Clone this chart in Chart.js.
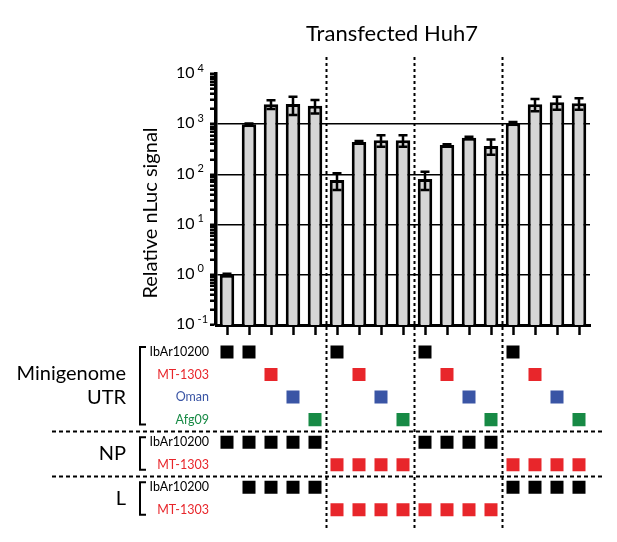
<!DOCTYPE html>
<html>
<head>
<meta charset="utf-8">
<title>Transfected Huh7</title>
<script src="https://cdn.jsdelivr.net/npm/chart.js@4.4.1/dist/chart.umd.min.js"></script>
<style>
  body { margin: 0; background: #fff; }
  #wrap { width: 617px; height: 542px; }
</style>
</head>
<body>
<div id="wrap"><canvas id="huh7Chart"></canvas></div>
<script>
// one bar per transfection, left to right
const lanes = ['1', '2', '3', '4', '5', '6', '7', '8', '9', '10', '11', '12', '13', '14', '15', '16', '17'];
const signal = [1, 1000, 2500, 2530, 2340, 77, 444, 481, 481, 81, 383, 535, 370, 1050, 2500, 2740, 2620];
const signalSd = [0.05, 30, 500, 1000, 700, 28, 20, 124, 124, 32, 15, 30, 125, 60, 680, 790, 670];
const decades = [-1, 0, 1, 2, 3, 4];
const groupBreaks = [4.5, 8.5, 12.5];

// construct matrix under the bars
const rowLabels = ['IbAr10200', 'MT-1303', 'Oman', 'Afg09', 'IbAr10200', 'MT-1303', 'IbAr10200', 'MT-1303'];
const rowColors = ['#000000', '#e8262b', '#3a55a5', '#178a45', '#000000', '#e8262b', '#000000', '#e8262b'];
const rowLanes = [
  [0, 1, 5, 9, 13],
  [2, 6, 10, 14],
  [3, 7, 11, 15],
  [4, 8, 12, 16],
  [0, 1, 2, 3, 4, 9, 10, 11, 12],
  [5, 6, 7, 8, 13, 14, 15, 16],
  [1, 2, 3, 4, 13, 14, 15, 16],
  [5, 6, 7, 8, 9, 10, 11, 12]
];
const groupNames = [['Minigenome', 'UTR'], ['NP'], ['L']];
const groupRows = [[0, 3], [4, 5], [6, 7]];

const FONT = 'Lato, "Open Sans", sans-serif';

function isDecade(v) {
  const l = Math.log10(v);
  return Math.abs(l - Math.round(l)) < 1e-6;
}

const extras = {
  id: 'extras',
  afterDatasetsDraw(chart) {
    const ctx = chart.ctx;
    const xs = chart.scales.x, ys = chart.scales.y;
    ctx.save();
    ctx.strokeStyle = '#000';
    ctx.lineWidth = 2.5;
    signal.forEach((v, i) => {
      const x = xs.getPixelForValue(i);
      const yHi = ys.getPixelForValue(v + signalSd[i]);
      const yLo = ys.getPixelForValue(Math.max(v - signalSd[i], 0.1));
      ctx.beginPath();
      ctx.moveTo(x, yLo); ctx.lineTo(x, yHi);
      ctx.moveTo(x - 4.5, yHi); ctx.lineTo(x + 4.5, yHi);
      ctx.moveTo(x - 4.5, yLo); ctx.lineTo(x + 4.5, yLo);
      ctx.stroke();
    });
    ctx.restore();
  },
  afterDraw(chart) {
    const ctx = chart.ctx;
    const area = chart.chartArea;
    const xs = chart.scales.x, ys = chart.scales.y, rows = chart.scales.rows;
    ctx.save();

    // title
    ctx.fillStyle = '#000';
    ctx.font = '22px ' + FONT;
    ctx.textAlign = 'center';
    ctx.textBaseline = 'alphabetic';
    ctx.fillText('Transfected Huh7', (area.left + area.right) / 2 - 11, 41);

    // y axis title
    ctx.save();
    ctx.translate(151, 213);
    ctx.rotate(-Math.PI / 2);
    ctx.font = '20px ' + FONT;
    ctx.textBaseline = 'middle';
    ctx.fillText('Relative nLuc signal', 0, 0);
    ctx.restore();

    // log tick labels as 10 with exponent
    ctx.textAlign = 'left';
    ctx.textBaseline = 'middle';
    decades.forEach(e => {
      const y = ys.getPixelForValue(Math.pow(10, e));
      const x0 = area.left - 40;
      ctx.font = '16px ' + FONT;
      ctx.fillText('10', x0, y - 1);
      const w = ctx.measureText('10').width;
      ctx.font = '11px ' + FONT;
      ctx.fillText(String(e), x0 + w + 3, y - 6);
    });

    // vertical dashed separators between groups
    ctx.strokeStyle = '#000';
    ctx.lineWidth = 2;
    ctx.setLineDash([3, 3]);
    groupBreaks.forEach(b => {
      const x = Math.round(xs.getPixelForValue(b)) + 0.5;
      ctx.beginPath();
      ctx.moveTo(x, 57); ctx.lineTo(x, 530);
      ctx.stroke();
    });

    // horizontal dashed separators between row groups
    ctx.setLineDash([4, 3]);
    for (let g = 0; g < groupRows.length - 1; g++) {
      const y = Math.round(rows.getPixelForValue((groupRows[g][1] + groupRows[g + 1][0]) / 2)) + 0.5;
      ctx.beginPath();
      ctx.moveTo(52, y); ctx.lineTo(604, y);
      ctx.stroke();
    }
    ctx.setLineDash([]);

    // brackets and group names
    ctx.lineWidth = 2;
    ctx.font = '20px ' + FONT;
    ctx.textAlign = 'right';
    ctx.textBaseline = 'middle';
    groupRows.forEach((r, g) => {
      const top = rows.getPixelForValue(r[0]) - 5;
      const bot = rows.getPixelForValue(r[1]) + 5;
      ctx.beginPath();
      ctx.moveTo(146, top); ctx.lineTo(140, top); ctx.lineTo(140, bot); ctx.lineTo(146, bot);
      ctx.stroke();
      const mid = (top + bot) / 2;
      const names = groupNames[g];
      names.forEach((n, k) => {
        ctx.fillText(n, 126, mid + (k - (names.length - 1) / 2) * 24);
      });
    });

    ctx.restore();
  }
};

const datasets = [{
  type: 'bar',
  data: signal,
  xAxisID: 'x',
  yAxisID: 'y',
  backgroundColor: '#d6d6d6',
  borderColor: '#000',
  borderWidth: 3,
  barPercentage: 0.66,
  categoryPercentage: 1.0
}];

rowLanes.forEach((lns, r) => {
  datasets.push({
    type: 'scatter',
    data: lns.map(i => ({ x: lanes[i], y: r })),
    xAxisID: 'x',
    yAxisID: 'rows',
    pointStyle: 'rect',
    pointRadius: 9.2,
    pointBackgroundColor: rowColors[r],
    pointBorderWidth: 0,
    borderColor: rowColors[r],
    showLine: false
  });
});

const ctx = document.getElementById('huh7Chart').getContext('2d');
new Chart(ctx, {
  type: 'bar',
  data: { labels: lanes, datasets: datasets },
  options: {
    responsive: true,
    maintainAspectRatio: false,
    animation: false,
    layout: { padding: { left: 0, top: 74, right: 27, bottom: 21 } },
    plugins: {
      legend: { display: false },
      tooltip: { enabled: false },
      title: { display: false }
    },
    scales: {
      x: {
        type: 'category',
        position: { y: 0.1 },
        offset: true,
        grid: { display: true, drawOnChartArea: false, drawTicks: true, offset: false, tickLength: 8, tickWidth: 2.5, tickColor: '#000' },
        border: { display: true, color: '#000', width: 3 },
        ticks: { display: false }
      },
      y: {
        type: 'logarithmic',
        position: 'left',
        stack: 'left',
        stackWeight: 251,
        weight: 1,
        min: 0.1,
        max: 10000,
        afterBuildTicks: s => {
          const t = [];
          decades.forEach((e, k) => {
            for (let m = 1; m <= 9; m++) {
              if (k === decades.length - 1 && m > 1) break;
              t.push({ value: m * Math.pow(10, e) });
            }
          });
          s.ticks = t;
        },
        afterFit: s => { s.width = 216; },
        grid: {
          color: c => {
            const v = c.tick ? c.tick.value : 0.1;
            return (isDecade(v) && v >= 1 && v <= 1000) ? '#000' : 'rgba(0,0,0,0)';
          },
          lineWidth: 1.5,
          tickColor: '#000',
          tickLength: 6,
          tickWidth: 2.5
        },
        border: { color: '#000', width: 3.5 },
        ticks: { display: false, autoSkip: false }
      },
      rows: {
        type: 'linear',
        position: 'left',
        stack: 'left',
        stackWeight: 196,
        weight: 0,
        min: -1.2,
        max: 7.5,
        reverse: true,
        afterBuildTicks: s => { s.ticks = rowLabels.map((_, i) => ({ value: i })); },
        afterFit: s => { s.width = 216; },
        grid: { display: false, drawTicks: false },
        border: { display: false },
        ticks: {
          autoSkip: false,
          padding: 7,
          font: { family: FONT, size: 12.5 },
          color: c => rowColors[c.index],
          callback: v => rowLabels[v]
        }
      }
    }
  },
  plugins: [extras]
});
</script>
</body>
</html>
